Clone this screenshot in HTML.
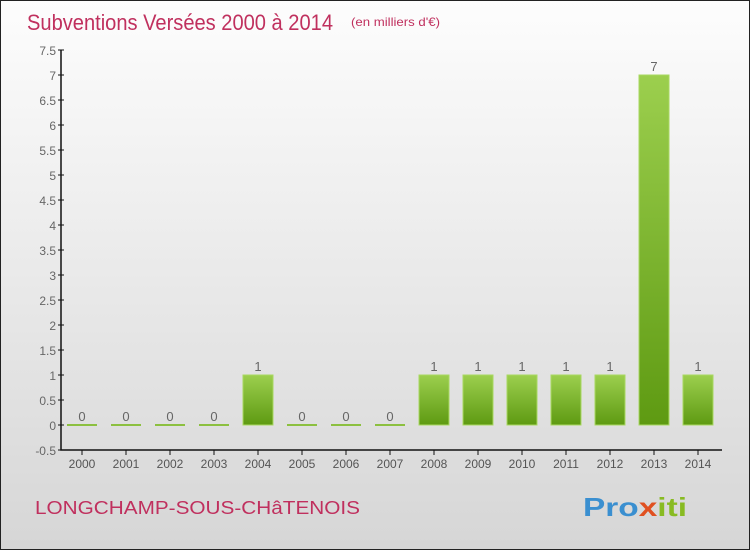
<!DOCTYPE html>
<html><head><meta charset="utf-8"><style>
body{margin:0;}
#c{width:748px;height:548px;border:1px solid #222;position:relative;background:linear-gradient(#fdfdfd,#d6d6d6);font-family:"Liberation Sans",sans-serif;overflow:hidden}
</style></head><body>
<div id="c">
<svg width="748" height="548" viewBox="1 1 748 548" style="position:absolute;left:0;top:0">
<defs><linearGradient id="g" x1="0" y1="0" x2="0" y2="1"><stop offset="0" stop-color="#9ccf4e"/><stop offset="1" stop-color="#5e9a12"/></linearGradient></defs>
<text x="27" y="30" font-size="22" fill="#c0305e" textLength="306" lengthAdjust="spacingAndGlyphs">Subventions Versées 2000 à 2014</text>
<text x="351" y="26" font-size="12" fill="#c0305e" textLength="89" lengthAdjust="spacingAndGlyphs">(en milliers d'€)</text>
<text x="35" y="514" font-size="18" fill="#c0305e" textLength="325" lengthAdjust="spacingAndGlyphs">LONGCHAMP-SOUS-CHâTENOIS</text>
<text x="583" y="516" font-size="26" font-weight="bold" fill="#3a8fd0" textLength="104" lengthAdjust="spacingAndGlyphs">Pro<tspan fill="#e05020">x</tspan><tspan fill="#88bb22">iti</tspan></text>
<g id="plot"></g>
</svg>
</div>
<script>
const years=["2000","2001","2002","2003","2004","2005","2006","2007","2008","2009","2010","2011","2012","2013","2014"];
const values=[0,0,0,0,1,0,0,0,1,1,1,1,1,7,1];
const ticks=["-0.5","0","0.5","1","1.5","2","2.5","3","3.5","4","4.5","5","5.5","6","6.5","7","7.5"];
const ns="http://www.w3.org/2000/svg";
const g=document.getElementById('plot');
const y=v=>425-50*v, x=i=>82+44*i;
function mk(t,a){const e=document.createElementNS(ns,t);for(const k in a)e.setAttribute(k,a[k]);g.appendChild(e);return e;}
let ax=mk('path',{d:'M61,50 V450 H722',stroke:'#111',fill:'none','stroke-width':1.5});


ticks.forEach(t=>{const v=parseFloat(t);
 let l=mk('line',{x1:58,x2:64,y1:y(v),y2:y(v),stroke:'#111'});
 
 
 let tx=mk('text',{x:56,y:y(v)+5,'text-anchor':'end','font-size':12,fill:'#666'});tx.textContent=t;
 
 
});
years.forEach((yr,i)=>{const cx=x(i),v=values[i];
 let l=mk('line',{x1:cx,x2:cx,y1:450,y2:455,stroke:'#111'});
 
 
 let t=mk('text',{x:cx,y:468,'text-anchor':'middle','font-size':12,fill:'#555'});t.textContent=yr;
 
 
 let b;
 if(v>0){b=mk('rect',{x:cx-15,y:y(v),width:30,height:y(0)-y(v),fill:'url(#g)',stroke:'#a8d860','stroke-width':1});}
 else{b=mk('rect',{x:cx-15,y:y(0)-1,width:30,height:2,fill:'#8cc040'});}
 
 
 let vl=mk('text',{x:cx,y:y(v)-4,'text-anchor':'middle','font-size':13,fill:'#666'});vl.textContent=v;
 
 
});
</script>
</body></html>
